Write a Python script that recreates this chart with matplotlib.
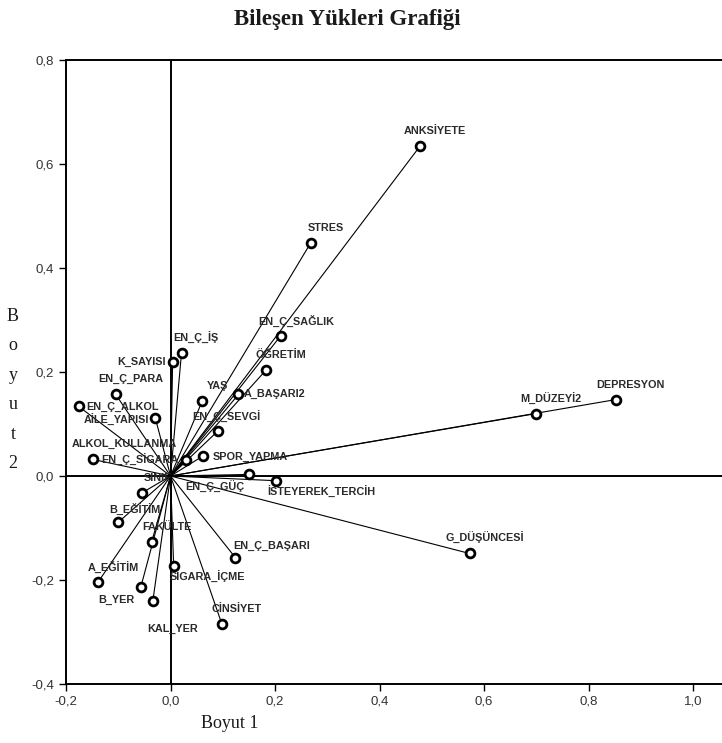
import matplotlib
matplotlib.use("Agg")
import matplotlib.pyplot as plt
from matplotlib.ticker import FuncFormatter, MultipleLocator

# Bileşen yükleri (Boyut 1, Boyut 2)
names = ["ANKSİYETE", "STRES", "EN_Ç_SAĞLIK", "ÖĞRETİM", "A_BAŞARI2", "YAŞ",
         "EN_Ç_SEVGİ", "SPOR_YAPMA", "EN_Ç_İŞ", "K_SAYISI", "EN_Ç_PARA",
         "EN_Ç_ALKOL", "AİLE_YAPISI", "ALKOL_KULLANMA", "EN_Ç_SİGARA", "SINIF",
         "EN_Ç_GÜÇ", "İSTEYEREK_TERCİH", "B_EĞİTİM", "FAKÜLTE", "A_EĞİTİM",
         "B_YER", "KAL_YER", "SİGARA_İÇME", "EN_Ç_BAŞARI", "CİNSİYET",
         "G_DÜŞÜNCESİ", "M_DÜZEYİ2", "DEPRESYON"]
boyut1 = [0.477, 0.268, 0.211, 0.182, 0.130, 0.061,
          0.090, 0.063, 0.021, 0.004, -0.105,
          -0.176, -0.029, 0.029, -0.149, -0.054,
          0.151, 0.201, -0.100, -0.036, -0.138,
          -0.057, -0.034, 0.006, 0.124, 0.098,
          0.572, 0.699, 0.852]
boyut2 = [0.634, 0.448, 0.270, 0.203, 0.157, 0.145,
          0.086, 0.039, 0.237, 0.220, 0.157,
          0.134, 0.111, 0.030, 0.032, -0.032,
          0.003, -0.009, -0.089, -0.126, -0.203,
          -0.214, -0.241, -0.174, -0.157, -0.284,
          -0.149, 0.120, 0.147]

# etiket kaymalari (piksel)
label_offsets = {
    "A_BAŞARI2": (36, 0), "SPOR_YAPMA": (47, -1), "EN_Ç_İŞ": (14, 15),
    "K_SAYISI": (-31, 0), "EN_Ç_ALKOL": (44, -1), "AİLE_YAPISI": (-39, -2),
    "ALKOL_KULLANMA": (-61, 16), "EN_Ç_SİGARA": (47, -1), "EN_Ç_GÜÇ": (-35, -13),
    "İSTEYEREK_TERCİH": (46, -11), "B_EĞİTİM": (17, 13), "B_YER": (-24, -13),
    "KAL_YER": (20, -28), "SİGARA_İÇME": (34, -11), "EN_Ç_BAŞARI": (36, 12),
    "EN_Ç_SEVGİ": (9, 14),
}
default_offset = (15, 15)

W, H = 722, 743
fig = plt.figure(figsize=(W / 100, H / 100), dpi=100)
ax = fig.add_axes([66 / W, 1 - 684 / H, (W - 66) / W, (684 - 60) / H])
ax.set_xlim(-0.2, 1.055)
ax.set_ylim(-0.4, 0.8)

ax.axhline(0, color="black", lw=1.4, zorder=1)
ax.axvline(0, color="black", lw=1.4, zorder=1)

for n, xv, yv in zip(names, boyut1, boyut2):
    ax.plot([0, xv], [0, yv], color="black", lw=0.8, zorder=2)
    dx, dy = label_offsets.get(n, default_offset)
    ax.annotate(n, (xv, yv), xytext=(dx, dy), textcoords="offset pixels",
                ha="center", va="center", fontsize=7.8, fontweight="bold",
                family="Liberation Sans", color="#2a2a2a", zorder=4)

ax.scatter(boyut1, boyut2, s=40, facecolors="white", edgecolors="black",
           linewidths=2.0, zorder=3)

for s in ["top", "left", "bottom"]:
    ax.spines[s].set_linewidth(1.4)
ax.spines["right"].set_visible(False)

ax.xaxis.set_major_locator(MultipleLocator(0.2))
ax.yaxis.set_major_locator(MultipleLocator(0.2))
fmt = FuncFormatter(lambda v, p: f"{v:.1f}".replace(".", ",").replace("-0,0", "0,0"))
ax.xaxis.set_major_formatter(fmt)
ax.yaxis.set_major_formatter(fmt)
ax.tick_params(direction="out", length=5, width=1, labelsize=9.5)
for lab in ax.get_xticklabels() + ax.get_yticklabels():
    lab.set_family("Liberation Sans")
    lab.set_color("#333333")

fig.text(347 / W, 1 - 20 / H, "Bileşen Yükleri Grafiği", ha="center", va="center",
         family="Liberation Serif", fontweight="bold", fontsize=16.5, color="#1a1a1a")
fig.text(230 / W, 1 - 724 / H, "Boyut 1", ha="center", va="center",
         family="Liberation Serif", fontsize=13, color="#1a1a1a")
fig.text(13 / W, 1 - 390 / H, "B\no\ny\nu\nt\n2", ha="center", va="center",
         family="Liberation Serif", fontsize=13, color="#1a1a1a", linespacing=1.95)

fig.savefig("out.png", dpi=100)
